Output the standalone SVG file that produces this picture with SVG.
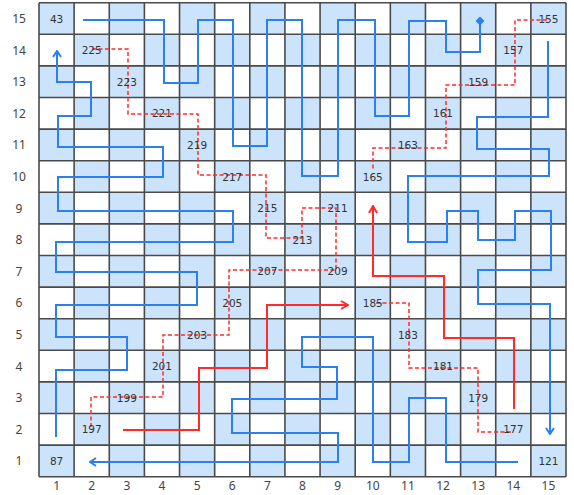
<svg xmlns="http://www.w3.org/2000/svg" width="574" height="495" viewBox="0 0 574 495">
<style>
.num{font-family:"DejaVu Sans",sans-serif;font-size:10.5px;fill:#333;text-anchor:middle}
.ax{font-family:"Noto Sans",sans-serif;font-size:12px;fill:#444;text-anchor:middle}
.bl{fill:none;stroke:#2b7ff0;stroke-width:2;stroke-linejoin:miter}
.rs{fill:none;stroke:#ff2b2b;stroke-width:2}
.rd{fill:none;stroke:#ff2b2b;stroke-width:1.5;stroke-dasharray:4 2.5}
</style>
<defs>
<pattern id="chk" patternUnits="userSpaceOnUse" x="39" y="2.7" width="70.266" height="63.2">
<rect x="0" y="0" width="35.133" height="31.6" fill="#cbe3fb"/>
<rect x="35.133" y="31.6" width="35.133" height="31.6" fill="#cbe3fb"/>
</pattern>
<marker id="ab" viewBox="0 0 10 10" refX="9" refY="5" markerWidth="10" markerHeight="10" markerUnits="userSpaceOnUse" orient="auto">
<path d="M3,1 L9,5 L3,9" fill="none" stroke="#2b7ff0" stroke-width="2"/>
</marker>
<marker id="ar" viewBox="0 0 10 10" refX="9" refY="5" markerWidth="10" markerHeight="10" markerUnits="userSpaceOnUse" orient="auto">
<path d="M2,1 L9,5 L2,9" fill="none" stroke="#ff2b2b" stroke-width="2"/>
</marker>
</defs>
<rect width="574" height="495" fill="#fff"/>
<g id="grid">
<rect x="39" y="2.7" width="527" height="474" fill="url(#chk)"/>
<path fill="none" stroke="#4a4a4a" stroke-width="1.6" d="M39,2.7V476.7M74.13,2.7V476.7M109.27,2.7V476.7M144.4,2.7V476.7M179.53,2.7V476.7M214.67,2.7V476.7M249.8,2.7V476.7M284.93,2.7V476.7M320.07,2.7V476.7M355.2,2.7V476.7M390.33,2.7V476.7M425.47,2.7V476.7M460.6,2.7V476.7M495.73,2.7V476.7M530.87,2.7V476.7M566,2.7V476.7M39,2.7H566M39,34.3H566M39,65.9H566M39,97.5H566M39,129.1H566M39,160.7H566M39,192.3H566M39,223.9H566M39,255.5H566M39,287.1H566M39,318.7H566M39,350.3H566M39,381.9H566M39,413.5H566M39,445.1H566M39,476.7H566"/>
</g>
<g id="axis">
<text class="ax" x="19" y="23">15</text>
<text class="ax" x="19" y="54.6">14</text>
<text class="ax" x="19" y="86.2">13</text>
<text class="ax" x="19" y="117.8">12</text>
<text class="ax" x="19" y="149.4">11</text>
<text class="ax" x="19" y="181">10</text>
<text class="ax" x="19" y="212.6">9</text>
<text class="ax" x="19" y="244.2">8</text>
<text class="ax" x="19" y="275.8">7</text>
<text class="ax" x="19" y="307.4">6</text>
<text class="ax" x="19" y="339">5</text>
<text class="ax" x="19" y="370.6">4</text>
<text class="ax" x="19" y="402.2">3</text>
<text class="ax" x="19" y="433.8">2</text>
<text class="ax" x="19" y="465.4">1</text>
<text class="ax" x="56.57" y="490">1</text>
<text class="ax" x="91.7" y="490">2</text>
<text class="ax" x="126.83" y="490">3</text>
<text class="ax" x="161.97" y="490">4</text>
<text class="ax" x="197.1" y="490">5</text>
<text class="ax" x="232.23" y="490">6</text>
<text class="ax" x="267.37" y="490">7</text>
<text class="ax" x="302.5" y="490">8</text>
<text class="ax" x="337.63" y="490">9</text>
<text class="ax" x="372.77" y="490">10</text>
<text class="ax" x="407.9" y="490">11</text>
<text class="ax" x="443.03" y="490">12</text>
<text class="ax" x="478.17" y="490">13</text>
<text class="ax" x="513.3" y="490">14</text>
<text class="ax" x="548.43" y="490">15</text>
</g>
<g id="connectors">
<path class="bl" d="M83,20H164V83H198V20H233V146H267V20H302V176H338V20H375V116H409V21H446V52H480V22"/>
<polygon points="480,16.5 484.5,21 480,25.5 475.5,21" fill="#2b7ff0"/>
<path class="bl" marker-end="url(#ab)" d="M56,437V370H127V337H56V305H197V272H56V242H233V211H58V177H163V147H58V116H91V82H57V51"/>
<path class="bl" marker-end="url(#ab)" d="M518,462H446V398H409V462H373V337H302V367H337V399H232V433H338V462H90"/>
<path class="bl" marker-end="url(#ab)" d="M548,41V117H477V149H549V176H408V242H447V211H478V240H515V211H551V270H478V304H550V434"/>
<path class="rs" marker-end="url(#ar)" d="M123,430H199V368H267V305H348"/>
<path class="rs" marker-end="url(#ar)" d="M514,409V338H444V276H373V206"/>
<path class="rd" d="M92,49H128V114H198V175H266V238H302V208H336V270H229V335H163V397H91V428"/>
<path class="rd" d="M547,20H515V85H446V148H373V169"/>
<path class="rd" d="M376,303H409V368H478V432H513"/>
</g>
<g id="n43"><text class="num" x="56.57" y="22.5">43</text></g>
<g id="n225"><text class="num" x="91.7" y="54.1">225</text></g>
<g id="n223"><text class="num" x="126.83" y="85.7">223</text></g>
<g id="n221"><text class="num" x="161.97" y="117.3">221</text></g>
<g id="n219"><text class="num" x="197.1" y="148.9">219</text></g>
<g id="n217"><text class="num" x="232.23" y="180.5">217</text></g>
<g id="n215"><text class="num" x="267.37" y="212.1">215</text></g>
<g id="n213"><text class="num" x="302.5" y="243.7">213</text></g>
<g id="n211"><text class="num" x="337.63" y="212.1">211</text></g>
<g id="n209"><text class="num" x="337.63" y="275.3">209</text></g>
<g id="n207"><text class="num" x="267.37" y="275.3">207</text></g>
<g id="n205"><text class="num" x="232.23" y="306.9">205</text></g>
<g id="n203"><text class="num" x="197.1" y="338.5">203</text></g>
<g id="n201"><text class="num" x="161.97" y="370.1">201</text></g>
<g id="n199"><text class="num" x="126.83" y="401.7">199</text></g>
<g id="n197"><text class="num" x="91.7" y="433.3">197</text></g>
<g id="n87"><text class="num" x="56.57" y="464.9">87</text></g>
<g id="n121"><text class="num" x="548.43" y="464.9">121</text></g>
<g id="n177"><text class="num" x="513.3" y="433.3">177</text></g>
<g id="n179"><text class="num" x="478.17" y="401.7">179</text></g>
<g id="n181"><text class="num" x="443.03" y="370.1">181</text></g>
<g id="n183"><text class="num" x="407.9" y="338.5">183</text></g>
<g id="n185"><text class="num" x="372.77" y="306.9">185</text></g>
<g id="n165"><text class="num" x="372.77" y="180.5">165</text></g>
<g id="n163"><text class="num" x="407.9" y="148.9">163</text></g>
<g id="n161"><text class="num" x="443.03" y="117.3">161</text></g>
<g id="n159"><text class="num" x="478.17" y="85.7">159</text></g>
<g id="n157"><text class="num" x="513.3" y="54.1">157</text></g>
<g id="n155"><text class="num" x="548.43" y="22.5">155</text></g>
</svg>
